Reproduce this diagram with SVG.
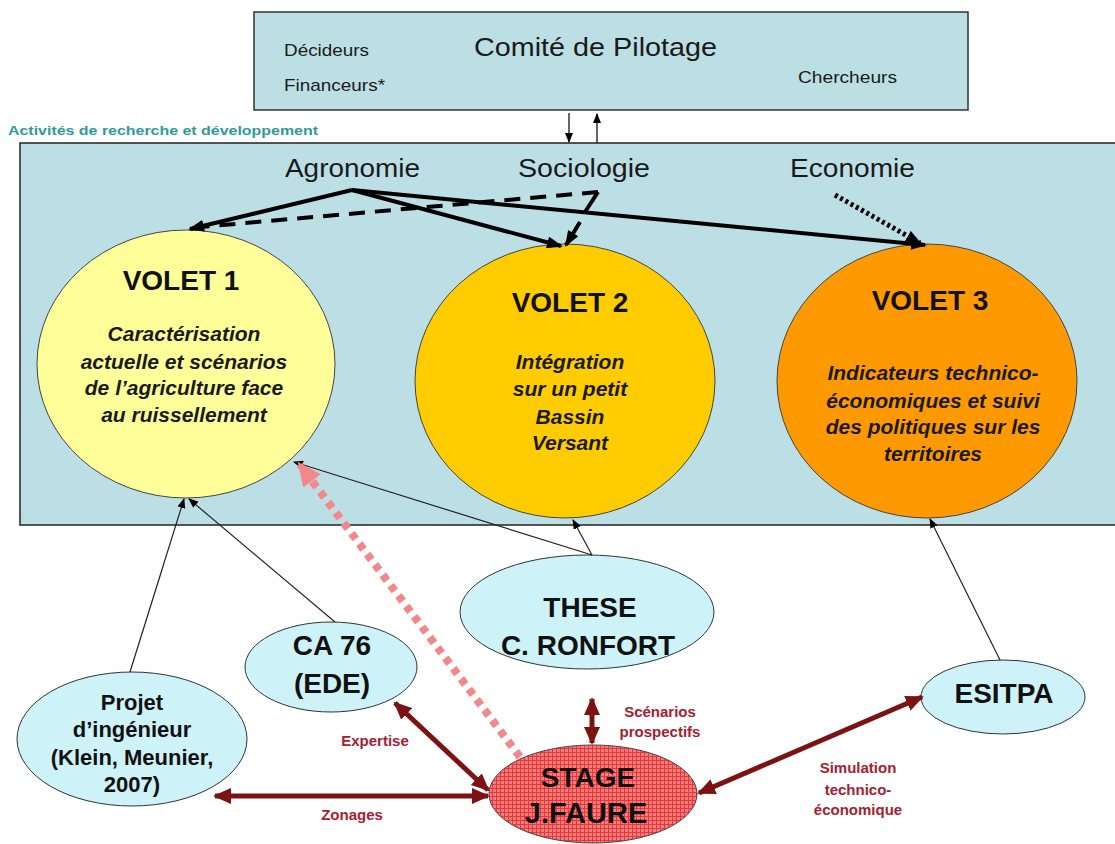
<svg xmlns="http://www.w3.org/2000/svg" width="1115" height="844" viewBox="0 0 1115 844">
<style>
.sans{font-family:"Liberation Sans",Arial,sans-serif}
.hdr{font-family:"Liberation Sans",Arial,sans-serif;fill:#1a1a1a}
.ttl{font-family:"Liberation Sans",Arial,sans-serif;font-weight:bold;fill:#111;text-anchor:middle}
.desc{font-family:"Liberation Sans",Arial,sans-serif;font-weight:bold;font-style:italic;fill:#1a1a1a;text-anchor:middle;font-size:21px}
.lbl{font-family:"Liberation Sans",Arial,sans-serif;font-weight:bold;fill:#a52030;text-anchor:middle;font-size:15px}
.disc{font-family:"Liberation Sans",Arial,sans-serif;fill:#1a1a1a;font-size:26px}
.cyan{fill:#cdf3f8;stroke:#333;stroke-width:1}
.thick{stroke:#000;stroke-width:4;fill:none}
.thin{stroke:#222;stroke-width:1.2;fill:none;marker-end:url(#thinArr)}
.red{stroke:#7d1212;stroke-width:5;fill:none;marker-start:url(#redArr);marker-end:url(#redArr)}
</style>
<defs>
<marker id="blkArr" markerUnits="userSpaceOnUse" markerWidth="16" markerHeight="12" refX="14" refY="6" orient="auto"><path d="M0,0 L16,6 L0,12 z" fill="#000"/></marker>
<marker id="thinArr" markerUnits="userSpaceOnUse" markerWidth="10" markerHeight="8" refX="9" refY="4" orient="auto"><path d="M0,0 L10,4 L0,8 z" fill="#000"/></marker>
<marker id="redArr" markerUnits="userSpaceOnUse" markerWidth="18" markerHeight="16" refX="16" refY="8" orient="auto-start-reverse"><path d="M0,0 L18,8 L0,16 z" fill="#7d1212"/></marker>
<marker id="pinkArr" markerUnits="userSpaceOnUse" markerWidth="24" markerHeight="22" refX="20" refY="11" orient="auto"><path d="M0,0 L24,11 L0,22 z" fill="#f4878a"/></marker>
<pattern id="grid" width="4" height="4" patternUnits="userSpaceOnUse">
<rect width="4" height="4" fill="#ff7a7a"/>
<path d="M0,0.5 H4 M0.5,0 V4" stroke="#e03a3a" stroke-width="1"/>
</pattern>
</defs>
<rect width="1115" height="844" fill="#fff"/>

<g id="comite">
<rect x="254" y="12" width="714" height="98" fill="#bcdfe3" stroke="#333" stroke-width="1.5"/>
<text class="hdr" x="474" y="56" font-size="25" textLength="243" lengthAdjust="spacingAndGlyphs">Comité de Pilotage</text>
<text class="hdr" x="284" y="56" font-size="17" textLength="85" lengthAdjust="spacingAndGlyphs">Décideurs</text>
<text class="hdr" x="284" y="91" font-size="17" textLength="101" lengthAdjust="spacingAndGlyphs">Financeurs*</text>
<text class="hdr" x="798" y="83" font-size="17" textLength="99" lengthAdjust="spacingAndGlyphs">Chercheurs</text>
</g>

<text class="sans" x="8" y="135" font-size="13" font-weight="bold" fill="#2f9a9a" textLength="310" lengthAdjust="spacingAndGlyphs">Activités de recherche et développement</text>

<g id="activites">
<rect x="20" y="143" width="1100" height="382" fill="#bcdfe5" stroke="#222" stroke-width="1.5"/>
<text class="disc" x="285" y="177" textLength="135" lengthAdjust="spacingAndGlyphs">Agronomie</text>
<text class="disc" x="518" y="177" textLength="132" lengthAdjust="spacingAndGlyphs">Sociologie</text>
<text class="disc" x="790" y="177" textLength="125" lengthAdjust="spacingAndGlyphs">Economie</text>
</g>

<g id="volet1">
<ellipse cx="186" cy="364" rx="149" ry="134" fill="#ffff99" stroke="#444" stroke-width="1"/>
<text class="ttl" x="181" y="290" font-size="28">VOLET 1</text>
<text class="desc" x="184" y="341">Caractérisation</text>
<text class="desc" x="184" y="369">actuelle et scénarios</text>
<text class="desc" x="184" y="395">de l’agriculture face</text>
<text class="desc" x="184" y="422">au ruissellement</text>
</g>

<g id="volet2">
<ellipse cx="565" cy="381" rx="150" ry="137" fill="#ffcc00" stroke="#444" stroke-width="1"/>
<text class="ttl" x="570" y="312" font-size="28">VOLET 2</text>
<text class="desc" x="570" y="369">Intégration</text>
<text class="desc" x="570" y="396">sur un petit</text>
<text class="desc" x="570" y="424">Bassin</text>
<text class="desc" x="570" y="450">Versant</text>
</g>

<g id="volet3">
<ellipse cx="927" cy="381" rx="150" ry="137" fill="#ff9900" stroke="#444" stroke-width="1"/>
<text class="ttl" x="930" y="310" font-size="28">VOLET 3</text>
<text class="desc" x="933" y="380">Indicateurs technico-</text>
<text class="desc" x="933" y="408">économiques et suivi</text>
<text class="desc" x="933" y="434">des politiques sur les</text>
<text class="desc" x="933" y="461">territoires</text>
</g>

<g id="projet">
<ellipse class="cyan" cx="132" cy="739" rx="115" ry="67"/>
<text class="ttl" x="132" y="710" font-size="22">Projet</text>
<text class="ttl" x="132" y="737" font-size="22">d’ingénieur</text>
<text class="ttl" x="132" y="765" font-size="22">(Klein, Meunier,</text>
<text class="ttl" x="132" y="792" font-size="22">2007)</text>
</g>

<g id="ca76">
<ellipse class="cyan" cx="331" cy="667" rx="86" ry="45"/>
<text class="ttl" x="332" y="655" font-size="28">CA 76</text>
<text class="ttl" x="332" y="693" font-size="28">(EDE)</text>
</g>

<g id="these">
<ellipse class="cyan" cx="587" cy="612" rx="127" ry="57"/>
<text class="ttl" x="590" y="617" font-size="28">THESE</text>
<text class="ttl" x="588" y="655" font-size="28">C. RONFORT</text>
</g>

<g id="esitpa">
<ellipse class="cyan" cx="1003" cy="697" rx="82" ry="37"/>
<text class="ttl" x="1004" y="703" font-size="28">ESITPA</text>
</g>

<g id="stage">
<ellipse cx="593" cy="794" rx="104" ry="49" fill="url(#grid)" stroke="#444" stroke-width="1"/>
<text class="ttl" x="588" y="787" font-size="28">STAGE</text>
<text class="ttl" x="586" y="823" font-size="29">J.FAURE</text>
</g>

<g id="connecteurs">
<line x1="569" y1="113" x2="569" y2="142" stroke="#000" stroke-width="1.2" marker-end="url(#thinArr)"/>
<line x1="597" y1="143" x2="597" y2="114" stroke="#000" stroke-width="1.2" marker-end="url(#thinArr)"/>

<line class="thick" x1="352" y1="190" x2="190" y2="229" marker-end="url(#blkArr)"/>
<line class="thick" x1="352" y1="190" x2="561" y2="246" marker-end="url(#blkArr)"/>
<line class="thick" x1="352" y1="190" x2="925" y2="245" marker-end="url(#blkArr)"/>
<path d="M598,192 L200,227" stroke="#000" stroke-width="4" fill="none" stroke-dasharray="16,10"/>
<path d="M598,192 L585,212" stroke="#000" stroke-width="4" fill="none"/>
<line x1="580" y1="222" x2="566" y2="245" stroke="#000" stroke-width="4" marker-end="url(#blkArr)"/>
<line x1="835" y1="195" x2="920" y2="243" stroke="#000" stroke-width="5" stroke-dasharray="3,3" marker-end="url(#blkArr)"/>

<line class="thin" x1="130" y1="672" x2="184" y2="499"/>
<line class="thin" x1="335" y1="622" x2="189" y2="499"/>
<line class="thin" x1="592" y1="555" x2="294" y2="462"/>
<line class="thin" x1="592" y1="555" x2="573" y2="520"/>
<line class="thin" x1="1000" y1="660" x2="930" y2="519"/>

<line x1="520" y1="757" x2="300" y2="465" stroke="#f4878a" stroke-width="8" stroke-dasharray="7,6" marker-end="url(#pinkArr)"/>

<line class="red" x1="592" y1="699" x2="592" y2="743"/>
<line class="red" x1="395" y1="703" x2="488" y2="790"/>
<line class="red" x1="215" y1="796" x2="488" y2="796"/>
<line class="red" x1="699" y1="793" x2="922" y2="697"/>

<text class="lbl" x="375" y="746">Expertise</text>
<text class="lbl" x="352" y="820">Zonages</text>
<text class="lbl" x="660" y="717">Scénarios</text>
<text class="lbl" x="660" y="737">prospectifs</text>
<text class="lbl" x="858" y="773">Simulation</text>
<text class="lbl" x="858" y="795">technico-</text>
<text class="lbl" x="858" y="815">économique</text>
</g>
</svg>
